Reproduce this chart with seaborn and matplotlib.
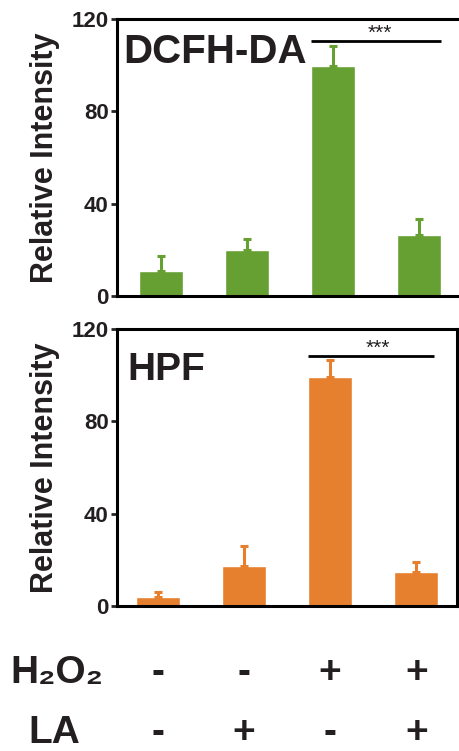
import numpy as np
import pandas as pd
import matplotlib
matplotlib.use("Agg")
import matplotlib.pyplot as plt
import matplotlib.transforms as mtransforms
import seaborn as sns

# Data
groups = ["g1", "g2", "g3", "g4"]
dcfh_mean = [10.8, 19.9, 99.7, 26.4]
dcfh_err = [6.5, 4.7, 8.8, 6.9]
hpf_mean = [4.0, 17.3, 99.3, 14.6]
hpf_err = [2.2, 8.7, 7.2, 4.3]
h2o2_signs = ["-", "-", "+", "+"]
la_signs = ["-", "+", "-", "+"]
yticks = [0, 40, 80, 120]

GREEN = "#66a032"
ORANGE = "#e67f2e"
INK = "#231f20"

sns.set_style("white")
plt.rcParams["font.family"] = ["Liberation Sans", "DejaVu Sans"]
plt.rcParams["font.weight"] = "bold"

fig = plt.figure(figsize=(4.59, 7.51), dpi=100)
W, H = 459, 751


def panel(rect_px, xlim, means, errs, color, title, title_xy, title_size,
          sig_y, sig_end, right_spine):
    left, top, right, bottom = rect_px
    ax = fig.add_axes([left / W, 1 - bottom / H, (right - left) / W, (bottom - top) / H])
    df = pd.DataFrame({"group": groups, "value": means})
    sns.barplot(data=df, x="group", y="value", color=color, width=0.51,
                saturation=1, errorbar=None, ax=ax)
    ax.errorbar(range(len(groups)), means, yerr=[np.zeros(len(errs)), errs],
                fmt="none", ecolor=color, elinewidth=2.2, capsize=3.2, capthick=2.2)
    ax.set_xlim(*xlim)
    ax.set_ylim(0, 120)
    ax.set_yticks(yticks)
    ax.set_yticklabels([str(t) for t in yticks], fontsize=16, fontweight="bold",
                       color=INK)
    ax.set_xticks([])
    ax.set_xlabel("")
    ax.set_ylabel("Relative Intensity", fontsize=22, fontweight="bold", color=INK)
    ax.yaxis.set_label_coords(-0.168, 0.5)
    for s in ax.spines.values():
        s.set_linewidth(2.2)
        s.set_color("black")
    ax.spines["right"].set_visible(right_spine)
    ax.tick_params(axis="y", direction="out", length=4, width=2, left=True, pad=2)
    ax.text(title_xy[0], title_xy[1], title, transform=ax.transAxes,
            fontsize=title_size, fontweight="bold", color=INK, va="baseline")
    ax.plot([2 - 0.255, sig_end], [sig_y, sig_y], color="black", lw=2,
            solid_capstyle="butt")
    ax.text(2.55, sig_y + 3.6, "***", ha="center", va="center", fontsize=15,
            fontweight="normal", color=INK)
    return ax


ax1 = panel((117, 19, 459, 296), (-0.51, 3.47), dcfh_mean, dcfh_err, GREEN,
            "DCFH-DA", (0.018, 0.841), 29, 110.4, 3.255, False)
ax2 = panel((117, 329, 457, 606), (-0.47, 3.47), hpf_mean, hpf_err, ORANGE,
            "HPF", (0.03, 0.816), 28, 108.2, 3.2, True)

# Treatment table under the lower panel
trans = mtransforms.blended_transform_factory(ax2.transData, fig.transFigure)
fig.text(10 / W, 1 - 673 / H, "H₂O₂", fontsize=28, fontweight="bold",
         va="center", color=INK)
fig.text(28 / W, 1 - 733 / H, "LA", fontsize=28, fontweight="bold",
         va="center", color=INK)
for i, (a, b) in enumerate(zip(h2o2_signs, la_signs)):
    ax2.text(i, 1 - 673 / H, a, transform=trans, ha="center", va="center",
             fontsize=28, fontweight="bold", color=INK)
    ax2.text(i, 1 - 733 / H, b, transform=trans, ha="center", va="center",
             fontsize=28, fontweight="bold", color=INK)

fig.savefig("out.png", dpi=100)
